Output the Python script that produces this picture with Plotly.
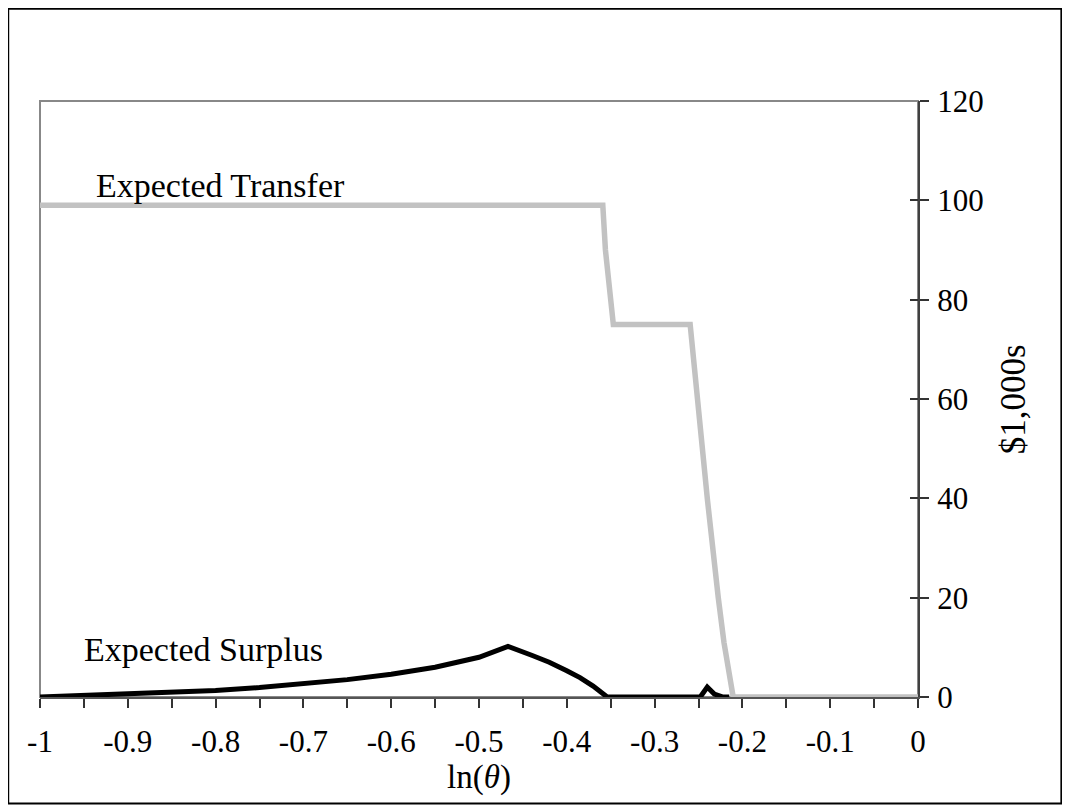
import plotly.graph_objects as go

# Expected Transfer ($1,000s) vs ln(theta)
transfer_x = [-1.0, -0.359, -0.356, -0.347, -0.2595, -0.2555, -0.2505, -0.2450, -0.2400,
              -0.2340, -0.2275, -0.2210, -0.2140, -0.2105, 0.0]
transfer_y = [99, 99, 90, 75, 75, 67, 59, 49, 40, 30, 20, 11, 4, 0, 0]

# Expected Surplus ($1,000s) vs ln(theta)
surplus_x = [-1.0, -0.95, -0.90, -0.85, -0.80, -0.75, -0.70, -0.65, -0.60, -0.55,
             -0.50, -0.467, -0.44, -0.42, -0.40, -0.385, -0.37, -0.36, -0.354,
             -0.248, -0.240, -0.232, -0.222, -0.215]
surplus_y = [0, 0.3, 0.55, 0.9, 1.3, 1.9, 2.6, 3.5, 4.6, 6.0,
             8.0, 10.2, 8.4, 7.0, 5.3, 3.9, 2.2, 0.8, 0,
             0, 2.0, 0.6, 0, 0]

x_tickvals = [-1, -0.9, -0.8, -0.7, -0.6, -0.5, -0.4, -0.3, -0.2, -0.1, 0]
x_ticktext = ["-1", "-0.9", "-0.8", "-0.7", "-0.6", "-0.5", "-0.4", "-0.3", "-0.2", "-0.1", "0"]
y_tickvals = [0, 20, 40, 60, 80, 100, 120]

FONT = "Liberation Serif"
FS = 31
FS_TXT = 34

fig = go.Figure()
fig.add_trace(go.Scatter(x=surplus_x, y=surplus_y, mode="lines",
                         line=dict(color="black", width=5), name="Expected Surplus"))
fig.add_trace(go.Scatter(x=transfer_x, y=transfer_y, mode="lines",
                         line=dict(color="#c2c2c2", width=5.5), name="Expected Transfer"))
# dummy trace for crossing ticks on right axis
fig.add_trace(go.Scatter(x=[None], y=[None], yaxis="y2", showlegend=False))

fig.update_layout(
    width=1054, height=797,
    margin=dict(l=32, r=144, t=93, b=108),
    paper_bgcolor="white", plot_bgcolor="white",
    showlegend=False,
    font=dict(family=FONT, size=FS, color="black"),
    xaxis=dict(range=[-1, 0], tickvals=x_tickvals, ticktext=x_ticktext,
               ticks="outside", ticklen=9, tickwidth=1.5, tickcolor="#333",
               minor=dict(dtick=0.05, tick0=-1, ticks="outside", ticklen=9,
                          tickwidth=1.5, tickcolor="#333", showgrid=False),
               showgrid=False, zeroline=False,
               showline=True, linecolor="#555", linewidth=2,
               ticklabelstandoff=7,
               tickfont=dict(family=FONT, size=FS)),
    yaxis=dict(range=[0, 120], tickvals=y_tickvals, side="right",
               ticks="outside", ticklen=9, tickwidth=1.5, tickcolor="#333",
               showgrid=False, zeroline=False,
               showline=True, linecolor="#404040", linewidth=2,
               ticklabelstandoff=2,
               tickfont=dict(family=FONT, size=FS)),
    yaxis2=dict(range=[0, 120], overlaying="y", side="right", tickvals=y_tickvals,
                ticks="inside", ticklen=8, tickwidth=1.5, tickcolor="#333",
                showticklabels=False, showgrid=False, zeroline=False, showline=False),
    shapes=[
        dict(type="rect", xref="paper", yref="paper", x0=0, x1=1, y0=0, y1=1,
             line=dict(color="#888888", width=2), layer="below"),
        dict(type="rect", xref="paper", yref="paper", x0=-0.0362, x1=1.1633,
             y0=-0.1787, y1=1.1547, line=dict(color="black", width=2)),
    ],
    annotations=[
        dict(text="Expected Transfer", x=-0.938, y=103, xref="x", yref="y",
             xanchor="left", yanchor="middle", showarrow=False,
             font=dict(family=FONT, size=FS_TXT)),
        dict(text="Expected Surplus", x=-0.952, y=9.6, xref="x", yref="y",
             xanchor="left", yanchor="middle", showarrow=False,
             font=dict(family=FONT, size=FS_TXT)),
        dict(text="ln(<i>θ</i>)", x=0.5, y=-0.135, xref="paper", yref="paper",
             xanchor="center", yanchor="middle", showarrow=False,
             font=dict(family=FONT, size=33)),
        dict(text="$1,000s", x=1.1086, y=0.5, xref="paper", yref="paper",
             xanchor="center", yanchor="middle", textangle=-90, showarrow=False,
             font=dict(family=FONT, size=35)),
    ],
)

fig.write_html("out.html")
